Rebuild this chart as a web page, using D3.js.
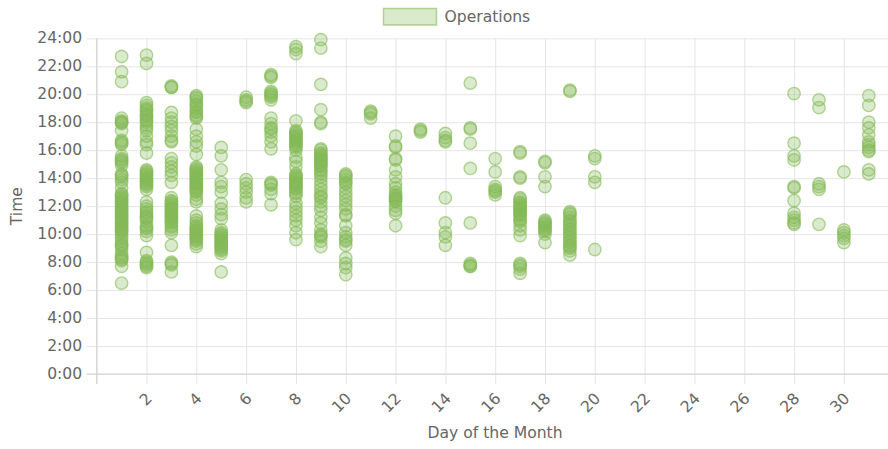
<!DOCTYPE html>
<html>
<head>
<meta charset="utf-8">
<script src="https://cdn.jsdelivr.net/npm/d3@7"></script>
<style>
    body { margin: 0; background: #fff; }
    text { font-family: "DejaVu Sans", sans-serif; fill: #666; }
    .grid line { stroke: #e5e5e5; stroke-width: 1; }
    .grid path { stroke: none; }
</style>
</head>
<body>
<div id="chart"></div>
<script>
// day of month for each column of points
var days = [1, 2, 3, 4, 5, 6, 7, 8, 9, 10, 11, 12, 13, 14, 15, 16, 17, 18, 19, 20, 28, 29, 30, 31]

// times of operations for each day (hours, decimal)
var hours = [
    [22.7, 21.6, 20.9, 18.3, 18.1, 18.0, 18.0, 17.9, 17.4, 16.7, 16.6, 16.5, 16.4, 15.6, 15.4, 15.3, 15.2, 15.1, 14.9, 14.3, 14.2, 14.1, 13.9, 13.7, 13.3, 12.9, 12.8, 12.7, 12.6, 12.5, 12.4, 12.3, 12.2, 12.1, 12.0, 11.9, 11.8, 11.7, 11.6, 11.5, 11.4, 11.3, 11.2, 11.1, 11.0, 10.9, 10.8, 10.7, 10.6, 10.5, 10.4, 10.3, 10.2, 10.1, 9.9, 9.7, 9.5, 9.3, 9.2, 9.1, 8.9, 8.6, 8.4, 8.3, 8.2, 8.1, 7.7, 6.5],
    [22.8, 22.2, 19.4, 19.2, 19.0, 18.9, 18.8, 18.6, 18.5, 18.4, 18.2, 18.1, 18.0, 17.8, 17.6, 17.4, 17.0, 16.6, 16.4, 15.8, 14.6, 14.5, 14.4, 14.3, 14.2, 14.1, 14.0, 13.9, 13.8, 13.7, 13.6, 13.5, 13.4, 13.2, 12.3, 12.0, 11.8, 11.6, 11.5, 11.3, 11.2, 11.1, 10.9, 10.6, 10.5, 10.4, 10.2, 9.9, 8.7, 8.1, 8.0, 7.9, 7.8, 7.7, 7.6],
    [20.6, 20.5, 20.5, 18.7, 18.3, 18.0, 17.7, 17.4, 17.0, 16.7, 16.6, 15.4, 15.1, 14.8, 14.5, 14.2, 13.7, 12.6, 12.4, 12.3, 12.2, 12.1, 12.0, 11.9, 11.8, 11.7, 11.6, 11.5, 11.4, 11.3, 11.2, 11.1, 11.0, 10.9, 10.8, 10.6, 10.5, 10.3, 10.1, 9.2, 8.0, 7.9, 7.8, 7.3],
    [19.9, 19.8, 19.7, 19.5, 19.3, 19.2, 19.0, 18.8, 18.7, 18.5, 18.4, 18.3, 17.5, 17.0, 16.6, 16.3, 15.7, 14.8, 14.7, 14.6, 14.5, 14.4, 14.3, 14.2, 14.1, 14.0, 13.9, 13.8, 13.7, 13.6, 13.5, 13.4, 13.3, 13.2, 13.1, 13.0, 12.8, 12.5, 12.3, 11.3, 11.0, 10.8, 10.6, 10.5, 10.4, 10.3, 10.2, 10.1, 10.0, 9.9, 9.8, 9.7, 9.6, 9.5, 9.3, 9.1],
    [16.2, 15.6, 14.6, 13.7, 13.4, 13.0, 12.2, 11.8, 11.4, 11.1, 10.3, 10.1, 10.0, 9.9, 9.8, 9.7, 9.6, 9.5, 9.4, 9.3, 9.2, 9.1, 9.0, 8.9, 8.8, 8.6, 7.3],
    [19.8, 19.6, 19.5, 19.4, 13.9, 13.6, 13.3, 13.0, 12.6, 12.3],
    [21.4, 21.3, 21.2, 20.2, 20.1, 20.0, 19.9, 19.8, 19.6, 18.3, 17.9, 17.6, 17.5, 17.3, 17.0, 16.6, 16.1, 13.7, 13.6, 13.5, 13.2, 12.9, 12.1],
    [23.4, 23.2, 22.9, 18.1, 17.4, 17.3, 17.2, 17.1, 17.0, 16.9, 16.8, 16.7, 16.6, 16.5, 16.4, 16.3, 16.2, 16.0, 15.5, 15.2, 14.8, 14.3, 14.2, 14.1, 14.0, 13.9, 13.8, 13.7, 13.6, 13.5, 13.4, 13.3, 13.2, 13.0, 12.9, 12.7, 12.2, 11.9, 11.6, 11.3, 11.0, 10.6, 10.1, 9.6],
    [23.9, 23.3, 20.7, 18.9, 18.0, 17.9, 16.1, 16.0, 15.8, 15.7, 15.6, 15.5, 15.4, 15.3, 15.2, 15.1, 15.0, 14.9, 14.8, 14.6, 14.5, 14.3, 14.1, 13.8, 13.5, 13.2, 12.9, 12.7, 12.6, 12.3, 12.0, 11.7, 11.2, 10.8, 10.3, 10.0, 9.9, 9.8, 9.5, 9.1],
    [14.3, 14.2, 14.1, 13.9, 13.7, 13.6, 13.3, 13.0, 12.7, 12.4, 12.1, 11.8, 11.4, 11.3, 10.6, 10.1, 9.8, 9.6, 9.5, 9.2, 8.3, 7.9, 7.6, 7.1],
    [18.8, 18.7, 18.6, 18.3],
    [17.0, 16.3, 16.2, 15.4, 15.3, 14.6, 14.1, 13.6, 13.3, 13.0, 12.8, 12.7, 12.6, 12.5, 12.4, 12.3, 12.0, 11.7, 11.5, 10.6],
    [17.5, 17.4, 17.3],
    [17.2, 16.9, 16.7, 16.6, 12.6, 10.8, 10.1, 9.8, 9.2],
    [20.8, 17.6, 17.5, 16.5, 14.7, 10.8, 7.9, 7.8, 7.7, 7.7],
    [15.4, 14.45, 13.4, 13.2, 13.1, 13.0, 12.8],
    [15.9, 15.8, 14.1, 14.0, 12.6, 12.5, 12.3, 12.2, 12.1, 12.0, 11.9, 11.8, 11.7, 11.6, 11.5, 11.4, 11.3, 11.1, 11.0, 10.9, 10.6, 10.3, 9.9, 7.9, 7.8, 7.7, 7.5, 7.2],
    [15.2, 15.1, 14.1, 13.4, 11.0, 10.9, 10.8, 10.7, 10.6, 10.5, 10.4, 10.3, 10.2, 10.0, 9.4],
    [20.3, 20.2, 11.6, 11.5, 11.4, 11.2, 11.0, 10.9, 10.7, 10.6, 10.4, 10.3, 10.1, 10.0, 9.8, 9.7, 9.5, 9.4, 9.2, 9.1, 9.0, 8.8, 8.5],
    [15.6, 15.4, 14.1, 13.7, 8.9],
    [20.05, 16.5, 15.6, 15.3, 13.4, 13.3, 12.4, 11.5, 11.2, 11.0, 10.8, 10.7],
    [19.6, 19.05, 13.6, 13.4, 13.2, 10.7],
    [14.45, 10.3, 10.1, 9.9, 9.7, 9.4],
    [19.9, 19.2, 18.0, 17.6, 17.1, 16.6, 16.4, 16.2, 16.0, 15.9, 14.6, 14.3]
]

var xTicks = [2, 4, 6, 8, 10, 12, 14, 16, 18, 20, 22, 24, 26, 28, 30]
var yTicks = [0, 2, 4, 6, 8, 10, 12, 14, 16, 18, 20, 22, 24]

var seriesName = "Operations"
var xTitle = "Day of the Month"
var yTitle = "Time"

var config = { width: 888, height: 449, selection: "#chart" }

var margin = { left: 96.7, right: 0, top: 38.3, bottom: 75 }
var width = 797, // plot runs past the canvas edge (x max 32)
    height = config.height - margin.top - margin.bottom

var pointFill = "rgba(132, 186, 87, 0.3)",
    pointStroke = "rgba(132, 186, 87, 0.6)"

var points = []
days.forEach(function(d, i){
    hours[i].forEach(function(h){ points.push({ day: d, hour: h }) })
})

var svg = d3.select(config.selection)
    .append("svg")
        .attr("width", config.width)
        .attr("height", config.height)

var g = svg.append("g")
    .attr("transform", "translate(" + margin.left + "," + margin.top + ")")

var x = d3.scaleLinear()
    .domain([0, 32])
    .range([0, width])

var y = d3.scaleLinear()
    .domain([0, 24])
    .range([height, 0])

// grid lines incl. tick marks sticking out by 10px
var yGrid = d3.axisLeft(y)
    .tickValues(yTicks)
    .tickSize(-(width + 10))
    .tickFormat("")

g.append("g")
    .attr("class", "grid")
    .attr("transform", "translate(" + (-10) + ",0)")
    .call(yGrid)
    .selectAll("line").attr("x1", 0).attr("x2", width + 10)

var xGrid = d3.axisBottom(x)
    .tickValues([0].concat(xTicks))
    .tickSize(-(height + 10))
    .tickFormat("")

g.append("g")
    .attr("class", "grid")
    .attr("transform", "translate(0," + (height + 10) + ")")
    .call(xGrid)

// zero lines slightly darker
g.append("line")
    .attr("x1", -10).attr("x2", width)
    .attr("y1", y(0)).attr("y2", y(0))
    .attr("stroke", "#d2d2d2")
g.append("line")
    .attr("x1", x(0)).attr("x2", x(0))
    .attr("y1", 0).attr("y2", height + 10)
    .attr("stroke", "#d2d2d2")

// y labels
g.selectAll(".ylabel")
    .data(yTicks)
    .enter()
        .append("text")
        .attr("class", "ylabel")
        .attr("x", -14.5)
        .attr("y", d => y(d))
        .attr("dominant-baseline", "central")
        .attr("text-anchor", "end")
        .attr("font-size", "15.6px")
        .text(d => d + ":00")

// x labels, rotated
g.selectAll(".xlabel")
    .data(xTicks)
    .enter()
        .append("text")
        .attr("class", "xlabel")
        .attr("transform", d => "translate(" + (x(d) + 3) + "," + (height + 22) + ") rotate(-45)")
        .attr("dominant-baseline", "central")
        .attr("text-anchor", "end")
        .attr("font-size", "15.6px")
        .text(d => d)

// points
g.selectAll(".point")
    .data(points)
    .enter()
        .append("circle")
        .attr("class", "point")
        .attr("cx", d => x(d.day))
        .attr("cy", d => y(d.hour))
        .attr("r", 6.2)
        .attr("fill", pointFill)
        .attr("stroke", pointStroke)
        .attr("stroke-width", 1.4)

// axis titles
svg.append("text")
    .attr("transform", "translate(17," + (margin.top + height / 2) + ") rotate(-90)")
    .attr("text-anchor", "middle")
    .attr("dominant-baseline", "central")
    .attr("font-size", "15.6px")
    .text(yTitle)

svg.append("text")
    .attr("x", 495)
    .attr("y", 433)
    .attr("text-anchor", "middle")
    .attr("dominant-baseline", "central")
    .attr("font-size", "15.6px")
    .text(xTitle)

// legend
var legend = svg.append("g")
    .attr("transform", "translate(383.5,8.5)")

legend.append("rect")
    .attr("width", 53)
    .attr("height", 16.5)
    .attr("fill", pointFill)
    .attr("stroke", pointStroke)
    .attr("stroke-width", 1.5)

legend.append("text")
    .attr("x", 61)
    .attr("y", 8)
    .attr("dominant-baseline", "central")
    .attr("font-size", "15.6px")
    .text(seriesName)
</script>
</body>
</html>
